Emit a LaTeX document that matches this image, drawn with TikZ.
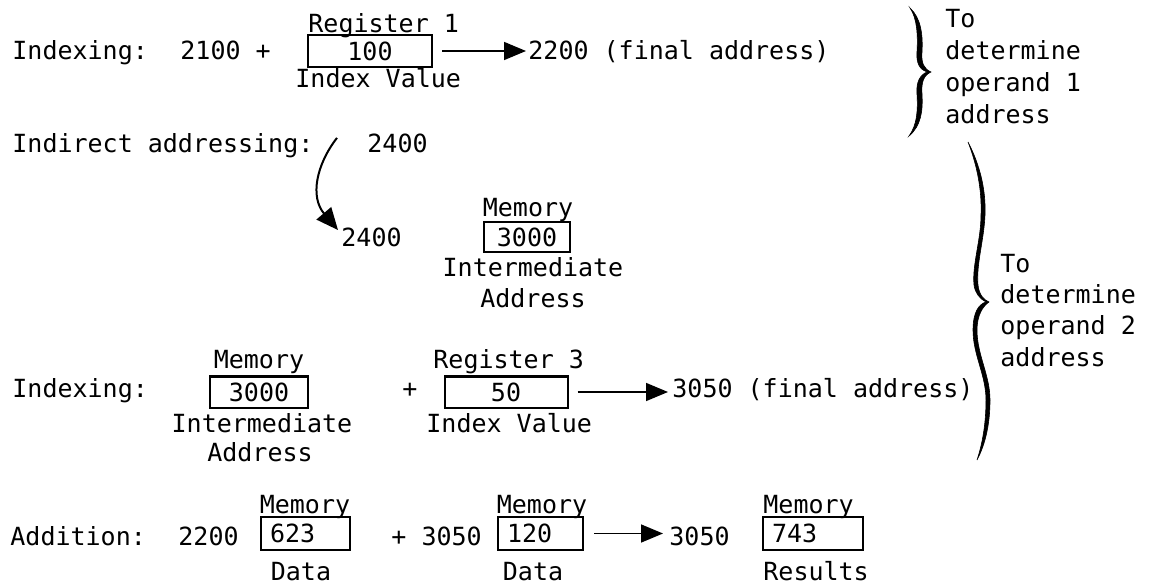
\documentclass[tikz,border=0pt]{standalone}
\usepackage{fontspec}
\setmonofont{DejaVu Sans Mono}
\usetikzlibrary{arrows.meta}
\begin{document}
\begin{tikzpicture}[x=0.5pt,y=-0.5pt,
  font=\ttfamily\fontsize{12.5pt}{15pt}\selectfont,
  txt/.style={anchor=base west, inner sep=0pt},
  ctxt/.style={anchor=base, inner sep=0pt},
  box/.style={draw, line width=1pt, inner sep=0pt},
  lbox/.style={box, align=left, inner xsep=4.5pt},
  arr/.style={line width=0.8pt, -{Triangle[length=11pt,width=9pt]}},
  curvearr/.style={line width=1pt, -{Triangle[length=11pt,width=9.5pt]}},
  bracefill/.style={fill=black, draw=black, line width=0.3pt}
]
\useasboundingbox (0,0) rectangle (1157,588);

% ---------- Row 1 ----------
\node[txt] (ix1) at (12,60) {Indexing:};
\node[txt] (n2100) at (180,60) {2100 +};
\node[txt] (reg1) at (308,33) {Register 1};
\node[box, minimum width=62pt, minimum height=16pt] (b1) at (370,51) {100};
\node[txt] (iv1) at (295,88) {Index Value};
\node[txt] (fa1) at (528,60) {2200 (final address)};
\coordinate (a1s) at ([xshift=4.5pt]b1.east);
\draw[arr] (a1s) -- ([xshift=-1pt]fa1.west |- b1.east);

% brace 1
\path[bracefill] (910,8) .. controls (921,18) and (923,35) .. (922,52)
  .. controls (921,63) and (924,69) .. (931,72)
  .. controls (924,75) and (921,82) .. (922,94)
  .. controls (923,111) and (921,126) .. (909,136)
  .. controls (917,125) and (918,111) .. (917,94)
  .. controls (916,82) and (920,75) .. (927,72)
  .. controls (920,70) and (916,63) .. (917,52)
  .. controls (918,35) and (917,18) .. (910,8) -- cycle;
\node[txt] (g1a) at (945,28) {To};
\node[txt] (g1b) at (945,60) {determine};
\node[txt] (g1c) at (945,92) {operand 1};
\node[txt] (g1d) at (945,124) {address};

% ---------- Row 2 ----------
\node[txt] (ia) at (12,153) {Indirect addressing:};
\node[txt] (t2400) at (367,153) {2400};
\node[txt] (l2400) at (341,247) {2400};
\coordinate (cs) at ([xshift=-15pt,yshift=3pt]t2400.west);
\coordinate (ce) at ([xshift=-1.5pt,yshift=-1pt]l2400.north west);
\draw[curvearr] (cs) .. controls (316,165) and (310,197) .. (ce);
\node[ctxt] (mem2) at (528,217) {Memory};
\node[box, minimum width=43pt, minimum height=15pt] (b2) at (527,237) {3000};
\node[ctxt] (int2) at (533,277) {Intermediate};
\node[ctxt] (ad2) at (533,307) {Address};

% ---------- Row 3 ----------
\node[txt] (ix3) at (12,397) {Indexing:};
\node[ctxt] (mem3) at (259,369) {Memory};
\node[box, minimum width=49pt, minimum height=15.5pt] (b3a) at (259,392) {3000};
\node[ctxt] (int3) at (262,432) {Intermediate};
\node[ctxt] (ad3) at (260,461) {Address};
\node[txt] (plus3) at (402,397) {+};
\node[txt] (reg3) at (433,369) {Register 3};
\node[box, minimum width=61.5pt, minimum height=15.5pt] (b3b) at (506,392) {50};
\node[txt] (iv3) at (426,432) {Index Value};
\node[txt] (fa3) at (672,397) {3050 (final address)};
\coordinate (a3s) at ([xshift=4.5pt]b3b.east);
\draw[arr] (a3s) -- ([xshift=-2pt]fa3.west |- b3b.east);

% brace 2
\path[bracefill] (968,142) .. controls (980,165) and (986,190) .. (985,215)
  .. controls (984,240) and (976,265) .. (978,285)
  .. controls (979,295) and (984,300) .. (989,302)
  .. controls (983,306) and (977,315) .. (977,330)
  .. controls (977,355) and (990,375) .. (990,400)
  .. controls (990,425) and (985,445) .. (977,460)
  .. controls (982,445) and (986,425) .. (986,400)
  .. controls (986,375) and (973,355) .. (973,330)
  .. controls (973,312) and (979,304) .. (986,302)
  .. controls (980,299) and (975,293) .. (974,285)
  .. controls (972,265) and (981,240) .. (981,215)
  .. controls (982,190) and (977,165) .. (968,142) -- cycle;
\node[txt] (g2a) at (1000,273) {To};
\node[txt] (g2b) at (1000,304) {determine};
\node[txt] (g2c) at (1000,335) {operand 2};
\node[txt] (g2d) at (1000,366) {address};

% ---------- Row 4 ----------
\node[txt] (add) at (10,545) {Addition:};
\node[txt] (a2200) at (178,545) {2200};
\node[ctxt] (mem4a) at (305,513) {Memory};
\node[lbox, text width=35.5pt, minimum height=16.5pt] (b4a) at (305.5,533.5) {623};
\node[ctxt] (d4a) at (301,580) {Data};
\node[txt] (p3050) at (391,545) {+ 3050};
\node[ctxt] (mem4b) at (542,513) {Memory};
\node[lbox, text width=33.5pt, minimum height=16.5pt] (b4b) at (540.5,533.5) {120};
\node[ctxt] (d4b) at (533,580) {Data};
\node[txt] (r3050) at (669,545) {3050};
\coordinate (a4s) at ([xshift=5pt]b4b.east);
\draw[arr] (a4s) -- ([xshift=-3pt]r3050.west |- b4b.east);
\node[txt] (mem4c) at (763,513) {Memory};
\node[lbox, text width=41pt, minimum height=16.5pt] (b4c) at (813,533.5) {743};
\node[txt] (res) at (763,580) {Results};
\end{tikzpicture}
\end{document}
